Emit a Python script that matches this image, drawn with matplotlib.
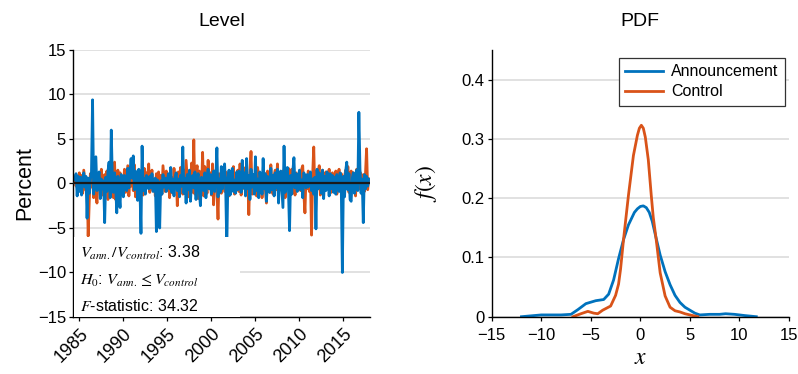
import numpy as np
import matplotlib
matplotlib.use("Agg")
import matplotlib.pyplot as plt
from matplotlib.patches import Rectangle

plt.rcParams['font.family'] = ['Liberation Sans', 'DejaVu Sans']
plt.rcParams['mathtext.fontset'] = 'stix'
plt.rcParams['axes.unicode_minus'] = True

ann_color = "#0072BD"
ctl_color = "#D95319"

# announcement-day changes, 8 per year (first row: second half of 1984)
ann_rows = [
    [0.4, 1.1, -1.4, 0.8],
    [-0.9, 0.7, -1.3, 0.5, 1.2, -0.4, 0.8, -3.9],          # 1985
    [0.6, -1.1, 0.4, 1.3, 9.4, -1.2, 1.0, 3.0],            # 1986
    [-0.8, 0.9, 1.3, -1.7, 0.5, -0.6, 0.3, -4.4],
    [0.7, -0.9, 1.4, 2.4, -1.6, 6.0, 0.5, -1.0],
    [1.2, -0.4, -3.3, 0.8, -1.1, -2.7, 1.0, 0.6],
    [-1.5, 0.9, 0.4, -0.8, 1.7, -0.5, 1.3, 2.8],           # 1990
    [0.6, 3.1, -0.7, 1.4, 0.5, -1.9, 1.6, -0.4],
    [-5.6, 4.2, -0.8, 0.6, -1.2, 0.9, 0.3, -0.6],
    [0.8, -0.5, 1.1, -0.9, 0.2, 0.6, -5.4, 0.4],
    [-0.7, -5.0, 0.3, -1.2, 1.0, -0.4, 0.6, -0.9],
    [0.4, 1.1, -0.6, 1.8, -1.0, 0.5, -1.4, 0.7],           # 1995
    [1.2, -0.8, 0.5, -1.5, 0.9, -0.3, 4.1, -1.1],
    [0.6, -2.2, 1.0, -0.7, 1.5, -2.0, 0.4, 0.9],
    [-0.5, 1.3, -1.8, 0.6, 1.1, -0.9, -2.5, 0.7],
    [0.3, -0.8, 1.2, -1.6, 0.5, 1.6, -0.6, 1.0],
    [-1.2, 0.8, 1.4, -0.9, 0.6, 4.0, -1.5, 0.5],           # 2000
    [-1.0, 1.9, -0.6, 1.2, 2.2, -0.8, -7.2, 0.6],
    [1.5, -1.3, 0.8, 1.7, -0.9, 0.4, -1.1, 1.3],
    [-0.7, 1.4, 0.6, -1.0, 2.6, -0.5, 1.2, -1.4],
    [2.8, -0.6, 0.9, -1.8, 1.6, -0.4, 1.0, -1.2],
    [3.0, -0.8, 0.5, -1.6, 1.3, 0.4, -1.2, 2.8],           # 2005
    [-0.6, 1.1, -2.0, 0.8, 0.3, -1.0, 1.7, -0.7],
    [0.9, -1.4, 1.2, -0.5, 1.6, -2.2, 0.7, 1.4],
    [-0.6, -2.7, 4.2, -1.0, 0.6, 1.8, -0.8, -5.3],
    [0.9, -1.2, 1.4, 2.9, -0.5, 1.1, -0.9, 0.6],
    [1.5, -0.7, 0.4, -1.6, 1.2, 0.8, -0.5, 1.0],           # 2010
    [-0.4, 0.9, 1.3, -0.8, 0.5, -1.2, 0.7, -5.1],
    [1.6, -0.6, 1.2, 0.4, -1.1, 1.5, -1.7, 0.8],
    [-0.8, 1.3, 0.5, -1.4, 1.1, -0.6, 0.9, -1.0],
    [0.7, -1.2, 1.0, 0.3, -0.9, 1.2, -0.5, -10.0],
    [0.8, -1.5, 1.4, 2.4, -0.7, 1.1, -1.8, -2.0],          # 2015
    [0.6, 1.2, -1.1, 0.9, 1.5, -0.8, 8.0, 1.7],
    [-1.1, 0.5, -4.4, 1.0, -0.6, 0.8, -0.3, 0.5],
]

# control-day changes, same layout
ctl_rows = [
    [0.5, -0.3, 0.8, -0.6],
    [1.2, -0.5, 0.9, -1.1, 1.5, 0.3, -0.8, 0.6],
    [-5.9, -2.0, 1.1, -0.4, 1.5, -1.6, 0.7, -0.9],
    [-2.2, 0.8, 1.2, -0.6, 1.6, -1.3, 0.4, 1.0],
    [-0.9, 1.4, -1.8, 0.7, 2.4, -0.5, 1.1, -1.6],
    [2.4, -1.8, 0.6, 1.5, -0.7, 1.2, -1.3, 0.8],
    [-0.6, 1.6, -1.0, 0.5, 2.0, -1.4, 0.9, -0.3],
    [1.3, -0.8, 2.1, -1.5, 0.6, 1.0, -0.9, 1.4],
    [-0.4, 0.9, -1.3, 1.7, -0.6, 1.2, 0.5, 2.2],
    [-1.0, 0.7, 1.5, -0.8, 0.4, -1.4, 1.1, 0.6],
    [1.3, -0.6, 0.9, -1.2, 2.0, 0.5, -0.9, 1.4],
    [-0.7, 1.0, -1.6, 0.8, 0.4, -1.1, 1.7, -0.5],
    [0.9, -2.5, 1.3, -0.6, 1.8, 0.7, -1.2, 1.5],
    [-0.8, 2.6, 0.6, -1.5, 1.2, -0.4, 2.3, -1.0],
    [4.9, -1.2, 0.8, 2.0, -1.7, 1.4, 0.5, -0.9],
    [3.5, -1.4, 1.9, 0.7, -1.1, 2.6, -0.6, 1.2],
    [-1.3, 2.2, -2.4, 0.9, 1.5, -0.7, -4.0, 1.1],
    [0.8, -1.1, 1.6, 0.4, -0.9, 1.3, -0.5, 0.9],
    [-1.4, 0.6, 1.2, -0.8, 1.9, -1.2, 0.5, 1.0],
    [1.5, -0.9, 2.2, -1.3, 0.7, 1.2, -0.6, 1.8],
    [-1.0, 0.6, -3.5, 1.2, 3.6, -1.2, 0.5, 0.9],
    [0.7, -1.4, 1.8, 0.5, -0.8, 1.1, -1.6, 0.6],
    [1.2, -0.6, -2.2, 1.4, 0.8, -1.0, 2.1, -0.4],
    [-1.2, 0.9, 1.5, -0.7, 2.2, -1.5, 0.6, 1.3],
    [-0.8, 1.4, 0.6, -1.6, 1.1, -0.5, 1.7, -0.9],
    [0.5, 1.6, -1.0, 0.8, -1.3, 1.2, 0.4, -0.7],
    [1.1, -0.8, 1.6, 2.0, -1.2, -3.3, 0.9, -0.6],
    [1.4, -0.9, 0.6, -5.8, 1.0, 4.1, -1.1, 1.3],
    [-0.7, 1.2, 2.0, -1.3, 0.6, 1.5, -0.8, 0.9],
    [1.3, -0.6, 0.8, 1.6, -1.1, 0.5, 1.2, -0.9],
    [0.6, 1.4, -1.2, 0.9, 1.6, -0.7, 1.1, 0.4],
    [-1.3, 0.8, 1.5, -0.6, 1.9, -1.0, 0.7, 1.4],
    [-0.8, 1.2, 0.5, -1.4, 1.6, 0.9, -0.6, 1.3],
    [0.7, -1.2, 1.0, -0.9, 1.1, 3.9, -0.7, 0.5],
]

ann = np.concatenate([np.array(r) for r in ann_rows])
ctl = np.concatenate([np.array(r) for r in ctl_rows])
dates = 1984.5 + np.arange(len(ann)) / 8

# density estimates
pdf_ann_x = [-12, -10, -8, -7, -6.3, -5.5, -4.5, -3.7, -3.2, -2.7, -2.2, -1.7, -1.2, -0.6,
             -0.3, 0, 0.3, 0.6, 0.9, 1.2, 1.6, 2.0, 2.5, 3.0, 3.5, 4.0, 4.5, 5.0, 5.5,
             6.0, 7.0, 8.0, 8.6, 9.5, 10.5, 11.7]
pdf_ann_y = [0, 0.003, 0.003, 0.004, 0.012, 0.022, 0.027, 0.029, 0.038, 0.062, 0.098, 0.13,
             0.155, 0.176, 0.182, 0.186, 0.187, 0.184, 0.176, 0.161, 0.132, 0.104, 0.076,
             0.054, 0.036, 0.024, 0.016, 0.011, 0.006, 0.003, 0.004, 0.004, 0.005, 0.004,
             0.002, 0]
pdf_ctl_x = [-6.8, -6.0, -5.3, -4.7, -4.3, -3.8, -3.0, -2.5, -2.2, -2.0, -1.7, -1.2, -0.7,
             -0.3, -0.1, 0.1, 0.3, 0.5, 0.8, 1.1, 1.3, 1.6, 2.0, 2.5, 3.0, 3.5, 4.0, 4.5,
             5.0, 5.8]
pdf_ctl_y = [0, 0.005, 0.009, 0.006, 0.005, 0.011, 0.018, 0.036, 0.055, 0.08, 0.13, 0.205,
             0.272, 0.306, 0.318, 0.323, 0.318, 0.303, 0.265, 0.205, 0.168, 0.13, 0.074,
             0.035, 0.016, 0.01, 0.008, 0.005, 0.003, 0]

fig = plt.figure(figsize=(7.98, 3.74), dpi=100)
ax1 = fig.add_axes([0.0915, 0.1524, 0.372, 0.714])
ax2 = fig.add_axes([0.6162, 0.1532, 0.3725, 0.7131])

for ax in (ax1, ax2):
    ax.spines['top'].set_visible(False)
    ax.spines['right'].set_visible(False)
    ax.spines['left'].set_linewidth(1.0)
    ax.spines['bottom'].set_linewidth(1.0)
    ax.tick_params(direction='out', length=3, labelsize=12, width=0.9, pad=2)
    ax.grid(axis='y', color='#d9d9d9', linewidth=1.1)
    ax.set_axisbelow(True)

# Level
ax1.plot(dates, ctl, color=ctl_color, linewidth=2.0)
ax1.plot(dates, ann, color=ann_color, linewidth=2.0)
ax1.axhline(0, color='#1a1a1a', linewidth=1.6, zorder=4)
ax1.set_xlim(1984.28, 2018.0)
ax1.set_ylim(-15, 15)
ax1.set_yticks([-15, -10, -5, 0, 5, 10, 15])
ax1.set_xticks([1985, 1990, 1995, 2000, 2005, 2010, 2015])
ax1.tick_params(axis='x', labelsize=13, pad=3)
for lab in ax1.get_xticklabels():
    lab.set_rotation(45)
    lab.set_ha('right')
    lab.set_rotation_mode('anchor')
ax1.set_ylabel('Percent', fontsize=15.5, labelpad=2)
ax1.set_title('Level', fontsize=14, pad=17)

ax1.add_patch(Rectangle((0.003, 0.0), 0.56, 0.30, transform=ax1.transAxes,
                        facecolor='white', edgecolor='none', zorder=5))
ax1.text(0.022, 0.24, r'$V_{ann.}/V_{control}$: 3.38', transform=ax1.transAxes,
         fontsize=11.5, va='center', zorder=6)
ax1.text(0.022, 0.135, r'$H_0$: $V_{ann.} \leq V_{control}$', transform=ax1.transAxes,
         fontsize=11.5, va='center', zorder=6)
ax1.text(0.022, 0.04, r'$F$-statistic: 34.32', transform=ax1.transAxes,
         fontsize=11.5, va='center', zorder=6)

# PDF
ax2.plot(pdf_ann_x, pdf_ann_y, color=ann_color, linewidth=2.0, label='Announcement')
ax2.plot(pdf_ctl_x, pdf_ctl_y, color=ctl_color, linewidth=2.0, label='Control')
ax2.set_xlim(-15, 15)
ax2.set_ylim(0, 0.45)
ax2.set_xticks([-15, -10, -5, 0, 5, 10, 15])
ax2.set_yticks([0, 0.1, 0.2, 0.3, 0.4])
ax2.set_yticklabels(['0', '0.1', '0.2', '0.3', '0.4'])
ax2.tick_params(axis='x', pad=5)
ax2.set_xlabel('$x$', fontsize=17, labelpad=3)
ax2.set_ylabel('$f(x)$', fontsize=17, labelpad=16)
ax2.set_title('PDF', fontsize=14, pad=17)
leg = ax2.legend(loc='upper right', fontsize=11.5, frameon=True, fancybox=False,
                 edgecolor='#333333', framealpha=1, borderpad=0.4, labelspacing=0.3,
                 handlelength=2.4, handletextpad=0.5, borderaxespad=0,
                 bbox_to_anchor=(0.987, 0.97))
leg.get_frame().set_linewidth(0.9)

fig.savefig('out.png', dpi=100)
